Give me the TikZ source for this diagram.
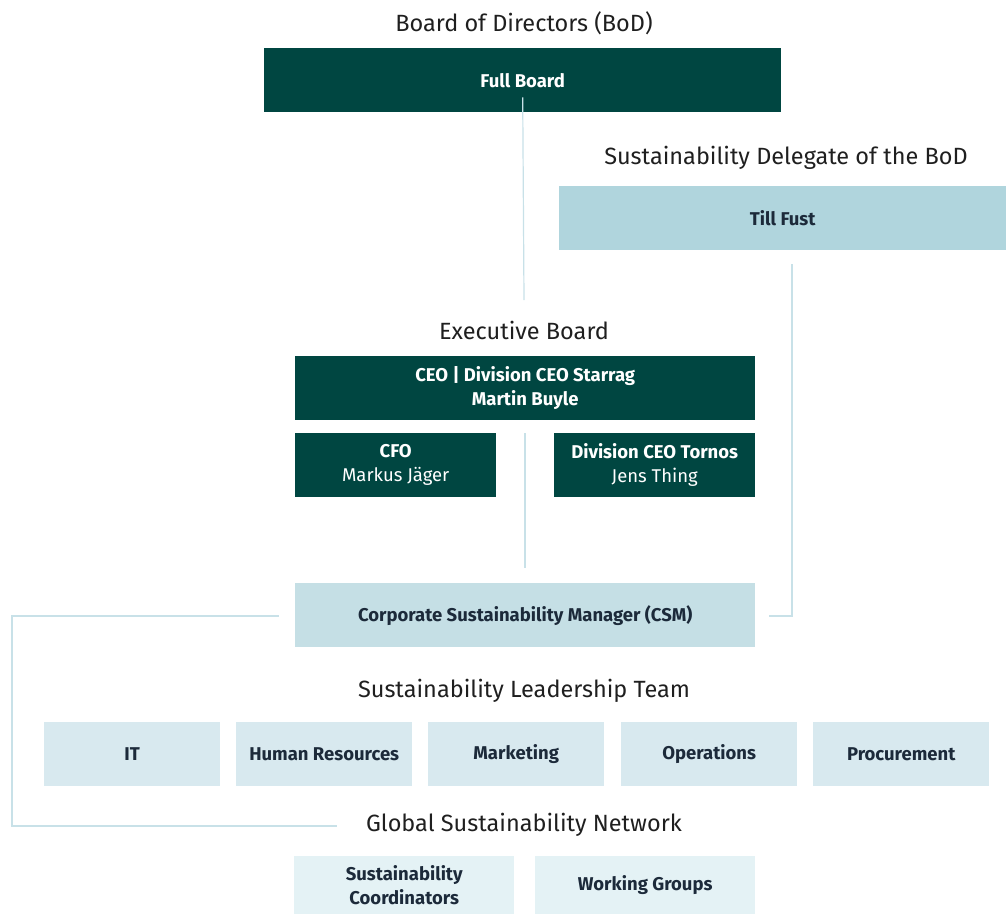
\documentclass[tikz,border=0pt]{standalone}
\usepackage{fontspec}
\setmainfont{Fira Sans}
\begin{document}
\begin{tikzpicture}[x=1pt,y=-1pt,
  heading/.style={anchor=center,text=black!88,font=\fontsize{23.5}{28}\selectfont},
  box/.style={anchor=north west,inner sep=0pt,align=center,
    font=\fontsize{18.5}{24}\selectfont\bfseries},
  darkbox/.style={box,fill=darkteal,text=white},
  delbox/.style={box,fill=deleg,text=navy},
  csmbox/.style={box,fill=csmc,text=navy},
  slbox/.style={box,fill=leadc,text=navy,minimum width=176pt,minimum height=64pt},
  netbox/.style={box,fill=netc,text=navy,minimum width=220pt,minimum height=58pt},
  link/.style={draw=linec,line width=1.2pt}]
\definecolor{darkteal}{RGB}{0,70,65}
\definecolor{deleg}{RGB}{176,213,221}
\definecolor{csmc}{RGB}{197,223,229}
\definecolor{leadc}{RGB}{216,233,239}
\definecolor{netc}{RGB}{228,242,245}
\definecolor{navy}{RGB}{28,42,58}
\definecolor{linec}{RGB}{200,225,232}
\useasboundingbox (0,0) rectangle (1006,914);

% Board of Directors
\node[heading] (bodT) at (524,23) {Board of Directors (BoD)};
\node[darkbox,minimum width=517pt,minimum height=64pt] (full) at (264,48) {Full Board};

% Sustainability delegate
\node[heading] (delT) at (786,158) {Sustainability Delegate of the BoD};
\node[delbox,minimum width=447pt,minimum height=64pt] (till) at (559,186) {Till Fust};

% Executive board
\node[heading] (exT) at (524,330) {Executive Board};
\node[darkbox,minimum width=460pt,minimum height=64pt] (ceo) at (295,356)
  {CEO | Division CEO Starrag\\Martin Buyle};
\node[darkbox,minimum width=201pt,minimum height=64pt] (cfo) at (295,433)
  {CFO\\\mdseries Markus Jäger};
\node[darkbox,minimum width=201pt,minimum height=64pt] (tornos) at (554,433)
  {Division CEO Tornos\\\mdseries Jens Thing};

% Corporate sustainability manager
\node[csmbox,minimum width=460pt,minimum height=64pt] (csm) at (295,583)
  {Corporate Sustainability Manager (CSM)};

% Sustainability leadership team
\node[heading] (slT) at (524,691) {Sustainability Leadership Team};
\node[slbox] (it)   at (44,722)  {IT};
\node[slbox] (hr)   at (236,722) {Human Resources};
\node[slbox] (mkt)  at (428,722) {Marketing};
\node[slbox] (ops)  at (621,722) {Operations};
\node[slbox] (proc) at (813,722) {Procurement};

% Global sustainability network
\node[heading] (gsnT) at (524,825) {Global Sustainability Network};
\node[netbox] (coord) at (294,856) {Sustainability\\Coordinators};
\node[netbox] (wg)    at (535,856) {Working Groups};

% Connectors
\coordinate (a1) at ([yshift=15pt]full.south);
\coordinate (a2) at (524,300);
\draw[link] (a1) -- (a2);

\coordinate (b1) at (792,264);
\coordinate (b2) at (769,616);
\draw[link] (b1) |- (b2);

\coordinate (c1) at (525,433);
\coordinate (c2) at (525,568);
\draw[link] (c1) -- (c2);

\coordinate (d1) at (279,616);
\coordinate (d2) at (337,826);
\draw[link] (d1) -- (12,616) |- (d2);
\end{tikzpicture}
\end{document}
